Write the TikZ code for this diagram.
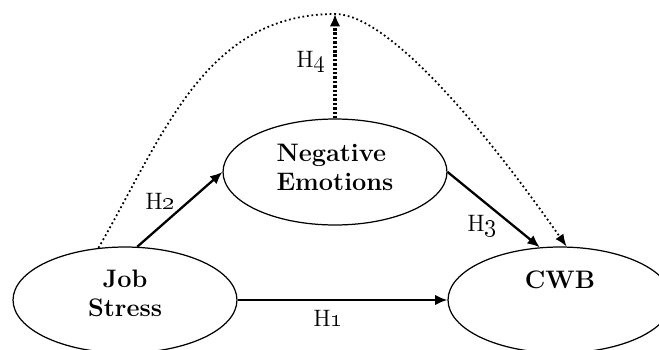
\documentclass[tikz,border=0pt]{standalone}
\usepackage{tikz}
\usetikzlibrary{shapes.geometric, arrows.meta, positioning, calc}
\tikzset{
  sem var/.style={
    ellipse, draw=black, line width=0.7pt,
    minimum width=4.48cm, minimum height=2.12cm,
    font=\fontsize{14.4}{16.5}\selectfont\bfseries, align=center, inner sep=2pt
  },
  sem arrow/.style={
    -{Latex[length=7pt, width=6pt]}, line width=1.3pt, draw=black
  },
  sem dotted/.style={
    -{Latex[length=7pt, width=5.5pt]}, line width=1pt,
    dash pattern=on 1pt off 1.6pt, draw=black
  },
  sem thick dotted/.style={
    -{Latex[length=7pt, width=6pt]}, line width=2pt,
    dash pattern=on 1.4pt off 1.1pt, draw=black
  },
  sem label/.style={
    font=\fontsize{13.5}{16}\selectfont, inner sep=1pt
  }
}
\begin{document}
\begin{tikzpicture}[x=0.02cm, y=0.02cm]
  \useasboundingbox (0,0) rectangle (659,349);

  \node (js) [sem var, text depth=0.28cm] at (125,49) {Job\\Stress};
  \node (ne) [sem var, text depth=0.2cm, align=left] at (335,177) {Negative\\Emotions};
  \node (cwb) [sem var, text depth=0.8cm] at (560,49) {CWB};
  \coordinate (top) at (335,335);

  \draw [sem arrow] (js) -- (cwb);
  \draw [sem arrow] (js.77) -- (ne.west);
  \draw [sem arrow] (ne.east) -- (cwb.111);
  \draw [sem thick dotted] (ne.north) -- (top);
  \draw [sem dotted] (js.117) to[out=60, in=180] (top)
    to[out=0, in=125, out looseness=0.4, in looseness=1.2] (cwb.83);

  \node (h1) [sem label] at (328,31) {H\oldstylenums{1}};
  \node (h2) [sem label] at (160,148) {H\oldstylenums{2}};
  \node (h3) [sem label] at (482,123) {H\oldstylenums{3}};
  \node (h4) [sem label] at (311,287) {H\oldstylenums{4}};
\end{tikzpicture}
\end{document}
